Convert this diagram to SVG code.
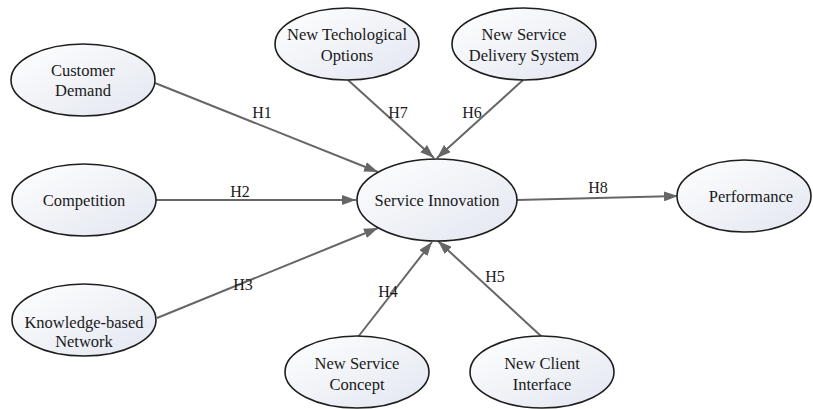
<svg xmlns="http://www.w3.org/2000/svg" width="813" height="409" viewBox="0 0 813 409">
<defs>
<linearGradient id="nodeFill" x1="0" y1="0" x2="1" y2="1">
<stop offset="0" stop-color="#ffffff"/>
<stop offset="1" stop-color="#e2e6f0"/>
</linearGradient>
<marker id="arrow" viewBox="0 0 14 10" refX="14" refY="5" markerWidth="14" markerHeight="10" markerUnits="userSpaceOnUse" orient="auto">
<path d="M0,0 L14,5 L0,10 z" fill="#666666"/>
</marker>
</defs>
<style>
.node ellipse { fill: url(#nodeFill); stroke: #1e1e1e; stroke-width: 1.6; }
.node text { font-family: "Liberation Serif", "Times New Roman", serif; font-size: 16.5px; fill: #1a1a1a; text-anchor: middle; }
.edge { stroke: #666666; stroke-width: 2; fill: none; marker-end: url(#arrow); }
.lbl { font-family: "Liberation Serif", "Times New Roman", serif; font-size: 16px; fill: #1a1a1a; text-anchor: middle; }
</style>
<rect width="813" height="409" fill="#ffffff"/>
<g id="connectors">
<line class="edge" x1="155" y1="83" x2="378" y2="172"/>
<line class="edge" x1="156" y1="200" x2="356" y2="200"/>
<line class="edge" x1="157" y1="318" x2="378" y2="228"/>
<line class="edge" x1="358" y1="337" x2="432" y2="242"/>
<line class="edge" x1="542" y1="337" x2="438" y2="241"/>
<line class="edge" x1="523" y1="80" x2="437" y2="158"/>
<line class="edge" x1="348" y1="80" x2="434" y2="158"/>
<line class="edge" x1="517" y1="200" x2="678" y2="196"/>
<text class="lbl" x="262" y="118">H1</text>
<text class="lbl" x="240" y="197">H2</text>
<text class="lbl" x="243" y="290">H3</text>
<text class="lbl" x="388" y="297">H4</text>
<text class="lbl" x="495" y="282">H5</text>
<text class="lbl" x="472" y="118">H6</text>
<text class="lbl" x="398" y="118">H7</text>
<text class="lbl" x="598" y="193">H8</text>
</g>
<g id="customer-demand" class="node">
<ellipse cx="83" cy="80" rx="72" ry="36"/>
<text x="83" y="76">Customer</text>
<text x="83" y="96">Demand</text>
</g>
<g id="competition" class="node">
<ellipse cx="84" cy="200" rx="72" ry="36"/>
<text x="84" y="206">Competition</text>
</g>
<g id="knowledge-network" class="node">
<ellipse cx="84" cy="320" rx="72" ry="36"/>
<text x="84" y="328">Knowledge-based</text>
<text x="84" y="347">Network</text>
</g>
<g id="new-tech-options" class="node">
<ellipse cx="347" cy="44" rx="72" ry="36"/>
<text x="347" y="40">New Techological</text>
<text x="347" y="61">Options</text>
</g>
<g id="new-service-delivery" class="node">
<ellipse cx="524" cy="44" rx="72" ry="36"/>
<text x="524" y="40">New Service</text>
<text x="524" y="61">Delivery System</text>
</g>
<g id="service-innovation" class="node">
<ellipse cx="437" cy="200" rx="80" ry="41"/>
<text x="437" y="206">Service Innovation</text>
</g>
<g id="performance" class="node">
<ellipse cx="744" cy="196" rx="67" ry="36"/>
<text x="751" y="202">Performance</text>
</g>
<g id="new-service-concept" class="node">
<ellipse cx="357" cy="372" rx="72" ry="36"/>
<text x="357" y="369">New Service</text>
<text x="357" y="390">Concept</text>
</g>
<g id="new-client-interface" class="node">
<ellipse cx="542" cy="372" rx="72" ry="36"/>
<text x="542" y="369">New Client</text>
<text x="542" y="390">Interface</text>
</g>
</svg>
